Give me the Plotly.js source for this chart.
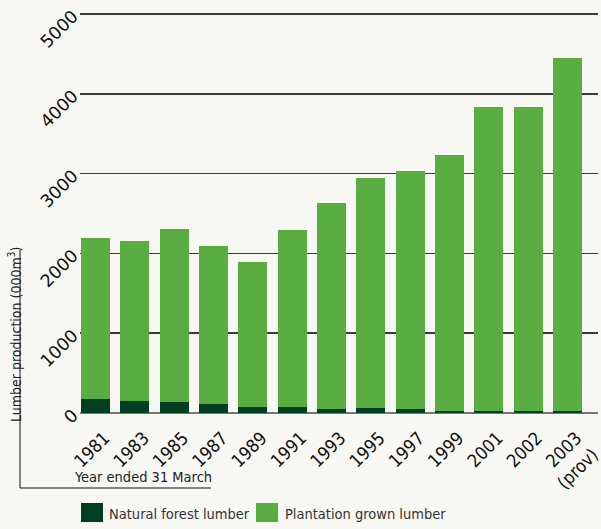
<!DOCTYPE html>
<html>
<head>
<meta charset="utf-8">
<script src="https://cdn.plot.ly/plotly-3.0.1.min.js"></script>
<style>html,body{margin:0;padding:0;background:#f7f7f3;}#chart{width:601px;height:529px;}</style>
</head>
<body>
<div id="chart"></div>
<script>
var years = ["1981","1983","1985","1987","1989","1991","1993","1995","1997","1999","2001","2002","2003<br>(prov)"];
var naturalForest = [175, 150, 135, 112, 75, 75, 54, 66, 54, 29, 20, 20, 20];
var totalProduction = [2190, 2150, 2310, 2090, 1890, 2290, 2630, 2950, 3030, 3230, 3840, 3840, 4450];
var plantationGrown = totalProduction.map(function(t, i){ return t - naturalForest[i]; });
var yTicks = [0, 1000, 2000, 3000, 4000, 5000];

var narrow = '"DejaVu Sans Condensed", "Liberation Sans Narrow", Arial, sans-serif';
var darkGreen = '#003f22';
var lightGreen = '#59ad41';

var traces = [
  {type:'bar', name:'Natural forest lumber', x: years.map(function(_, i){return i;}), y: naturalForest,
   marker:{color: darkGreen}, hoverinfo:'y'},
  {type:'bar', name:'Plantation grown lumber', x: years.map(function(_, i){return i;}), y: plantationGrown,
   marker:{color: lightGreen}, hoverinfo:'y'}
];

var PH = 403;
var layout = {
  width: 601, height: 529,
  paper_bgcolor: '#f7f7f3', plot_bgcolor: '#f7f7f3',
  margin: {l: 80, r: 3, t: 10, b: 116},
  barmode: 'stack', bargap: 0.263,
  showlegend: false,
  xaxis: {
    range: [-0.394, 12.78], tickmode: 'array',
    tickvals: years.map(function(_, i){return i;}), ticktext: years,
    tickangle: -45, showgrid: false, zeroline: false, showline: false, ticks: '',
    ticklabelstandoff: 10, ticklabelshift: 9, ticklabeloverflow: 'allow',
    tickfont: {family: narrow, size: 18, color: '#111'}
  },
  yaxis: {
    range: [0, 5050], tickmode: 'array', tickvals: yTicks, ticktext: yTicks.map(String),
    tickangle: -45, showgrid: true, gridcolor: '#3a3a3a', gridwidth: 1.5,
    zeroline: true, zerolinecolor: '#777', zerolinewidth: 2,
    showline: false, ticks: '', ticklabelstandoff: 6,
    tickfont: {family: '"DejaVu Sans", sans-serif', size: 17.5, color: '#111'}
  },
  shapes: [
    {type:'line', xref:'paper', yref:'paper', x0: -60/518, x1: -60/518, y0: (413-250)/PH, y1: (413-488)/PH, line:{color:'#111', width:1}},
    {type:'line', xref:'paper', yref:'paper', x0: -60/518, x1: (211-80)/518, y0: (413-488)/PH, y1: (413-488)/PH, line:{color:'#111', width:1}},
    {type:'rect', xref:'paper', yref:'paper', x0: 1/518, x1: 23/518, y0: (413-503)/PH, y1: (413-522)/PH, fillcolor: darkGreen, line:{width:0}},
    {type:'rect', xref:'paper', yref:'paper', x0: 176/518, x1: 198/518, y0: (413-503)/PH, y1: (413-522)/PH, fillcolor: lightGreen, line:{width:0}}
  ],
  annotations: [
    {xref:'paper', yref:'paper', x: (15-80)/518, y: (413-335)/PH, text: 'Lumber production (000m<sup>3</sup>)',
     textangle: -90, showarrow: false, xanchor:'center', yanchor:'middle',
     font:{family: narrow, size: 14, color:'#222'}},
    {xref:'paper', yref:'paper', x: (72-80)/518, y: (413-487)/PH, text: 'Year ended 31 March',
     showarrow: false, xanchor:'left', yanchor:'bottom', font:{family: narrow, size: 14.5, color:'#222'}},
    {xref:'paper', yref:'paper', x: (107-80)/518, y: (413-514)/PH, text: 'Natural forest lumber',
     showarrow: false, xanchor:'left', yanchor:'middle', font:{family: narrow, size: 14.5, color:'#333'}},
    {xref:'paper', yref:'paper', x: (283-80)/518, y: (413-514)/PH, text: 'Plantation grown lumber',
     showarrow: false, xanchor:'left', yanchor:'middle', font:{family: narrow, size: 14.5, color:'#333'}}
  ]
};

Plotly.newPlot('chart', traces, layout, {displayModeBar: false, staticPlot: true});
</script>
</body>
</html>
